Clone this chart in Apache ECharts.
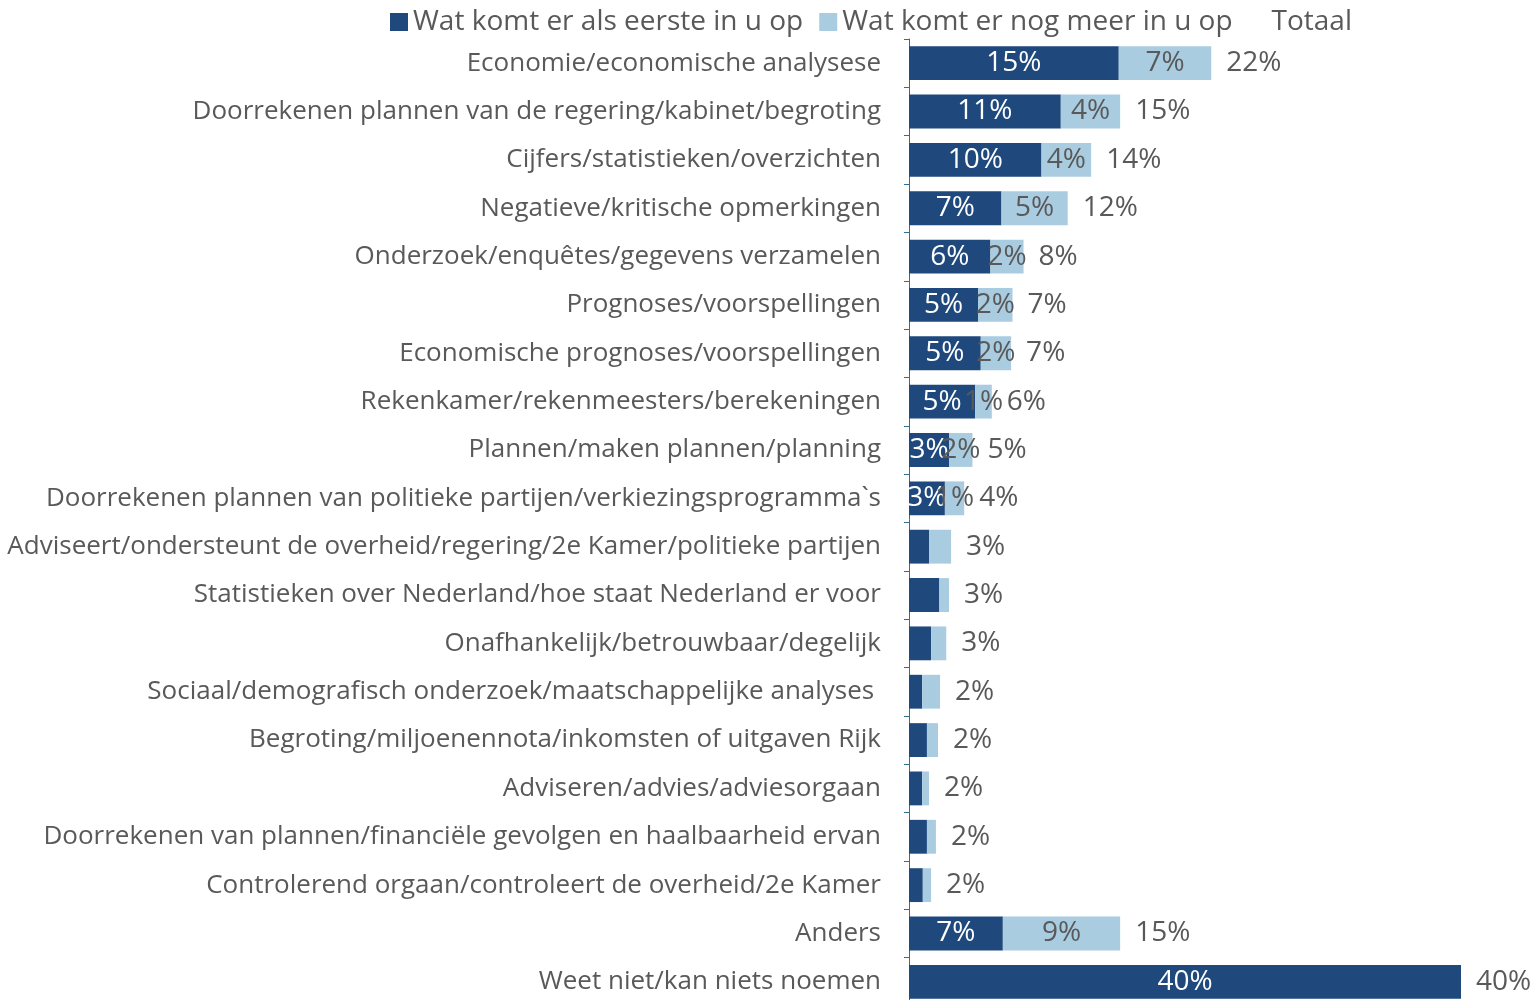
<!DOCTYPE html>
<html>
<head>
<meta charset="utf-8">
<script src="https://cdn.jsdelivr.net/npm/echarts@6/dist/echarts.min.js"></script>
<style>
  html, body { margin: 0; padding: 0; background: #fff; }
  #main { width: 1537px; height: 1000px; }
</style>
</head>
<body>
<div id="main"></div>
<script>
// categorieen, van boven naar beneden
var categories = [
  'Economie/economische analysese',
  'Doorrekenen plannen van de regering/kabinet/begroting',
  'Cijfers/statistieken/overzichten',
  'Negatieve/kritische opmerkingen',
  'Onderzoek/enquêtes/gegevens verzamelen',
  'Prognoses/voorspellingen',
  'Economische prognoses/voorspellingen',
  'Rekenkamer/rekenmeesters/berekeningen',
  'Plannen/maken plannen/planning',
  'Doorrekenen plannen van politieke partijen/verkiezingsprogramma`s',
  'Adviseert/ondersteunt de overheid/regering/2e Kamer/politieke partijen',
  'Statistieken over Nederland/hoe staat Nederland er voor',
  'Onafhankelijk/betrouwbaar/degelijk',
  'Sociaal/demografisch onderzoek/maatschappelijke analyses ',
  'Begroting/miljoenennota/inkomsten of uitgaven Rijk',
  'Adviseren/advies/adviesorgaan',
  'Doorrekenen van plannen/financiële gevolgen en haalbaarheid ervan',
  'Controlerend orgaan/controleert de overheid/2e Kamer',
  'Anders',
  'Weet niet/kan niets noemen'
];
var seriesNames = ['Wat komt er als eerste in u op', 'Wat komt er nog meer in u op', 'Totaal'];

// waarden (%)
var eerste = [15.2, 11.0, 9.6, 6.7, 5.9, 5.0, 5.2, 4.8, 2.9, 2.6, 1.45, 2.2, 1.6, 0.95, 1.3, 0.95, 1.3, 1.0, 6.8, 40];
var meer   = [6.7, 4.3, 3.6, 4.8, 2.4, 2.5, 2.2, 1.2, 1.7, 1.4, 1.6, 0.7, 1.1, 1.3, 0.8, 0.5, 0.65, 0.6, 8.5, 0];

// labels zoals in de grafiek
var eersteLabels = ['15%','11%','10%','7%','6%','5%','5%','5%','3%','3%','','','','','','','','','7%','40%'];
var meerLabels   = ['7%','4%','4%','5%','2%','2%','2%','1%','2%','1%','','','','','','','','','9%',''];
var totaalLabels = ['22%','15%','14%','12%','8%','7%','7%','6%','5%','4%','3%','3%','3%','2%','2%','2%','2%','2%','15%','40%'];

var FONT = 'Open Sans';
var GREY = '#595959';

var chart = echarts.init(document.getElementById('main'), null, { renderer: 'canvas' });

var option = {
  backgroundColor: '#ffffff',
  animation: false,
  textStyle: { fontFamily: FONT },
  legend: {
    top: 3,
    left: 385,
    itemWidth: 18,
    itemHeight: 18,
    itemGap: 16,
    icon: 'rect',
    textStyle: { fontFamily: FONT, fontSize: 28, color: GREY },
    data: [
      { name: seriesNames[0] },
      { name: seriesNames[1] },
      { name: seriesNames[2], itemStyle: { color: 'rgba(0,0,0,0)' } }
    ]
  },
  grid: { left: 909, top: 39, width: 552, height: 967, containLabel: false, outerBoundsMode: 'none' },
  xAxis: {
    type: 'value',
    min: 0,
    max: 40,
    show: false
  },
  yAxis: {
    type: 'category',
    inverse: true,
    data: categories,
    axisLine: { show: true, lineStyle: { color: '#2f6f94', width: 1 } },
    axisTick: { show: true, length: 5, lineStyle: { color: '#2f6f94' } },
    axisLabel: { fontFamily: FONT, fontSize: 26, color: GREY, margin: 28 }
  },
  series: [
    {
      name: seriesNames[0],
      type: 'bar',
      stack: 'totaal',
      barCategoryGap: '30%',
      itemStyle: { color: '#1f497d' },
      label: {
        show: true,
        position: 'inside',
        color: '#ffffff',
        fontFamily: FONT,
        fontSize: 28,
        formatter: function (p) { return eersteLabels[p.dataIndex]; }
      },
      data: eerste
    },
    {
      name: seriesNames[1],
      type: 'bar',
      stack: 'totaal',
      itemStyle: { color: '#a9cce0' },
      label: {
        show: true,
        position: 'inside',
        color: GREY,
        fontFamily: FONT,
        fontSize: 28,
        formatter: function (p) { return meerLabels[p.dataIndex]; }
      },
      data: meer
    },
    {
      name: seriesNames[2],
      type: 'bar',
      stack: 'totaal',
      itemStyle: { color: 'rgba(0,0,0,0)' },
      label: {
        show: true,
        position: 'right',
        distance: 15,
        color: GREY,
        fontFamily: FONT,
        fontSize: 28,
        formatter: function (p) { return totaalLabels[p.dataIndex]; }
      },
      data: categories.map(function () { return 0; })
    }
  ]
};

chart.setOption(option);
</script>
</body>
</html>
